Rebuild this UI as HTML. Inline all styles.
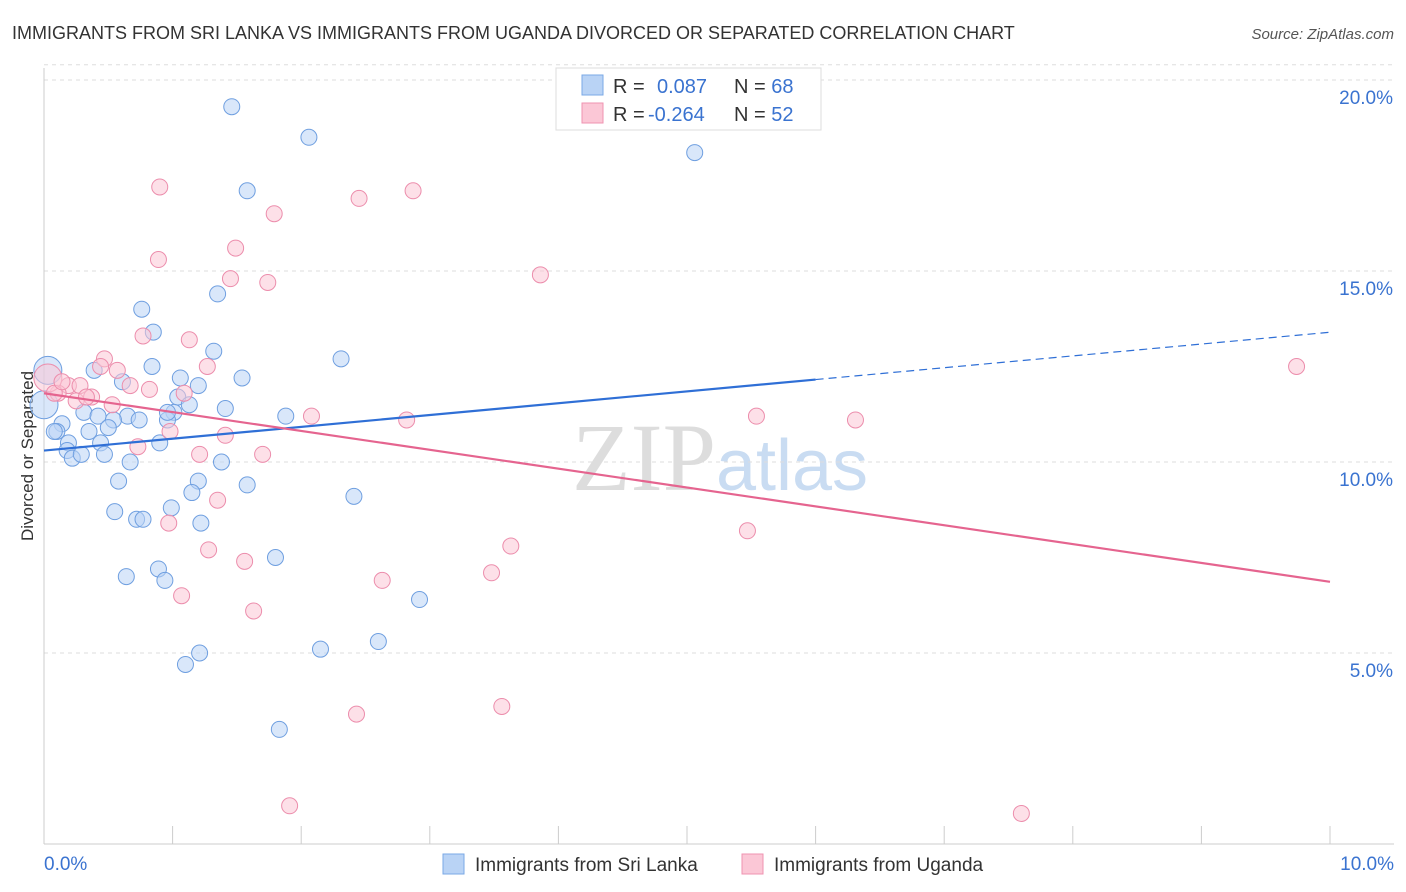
<!DOCTYPE html>
<html><head><meta charset="utf-8"><style>
body{margin:0;background:#fff;font-family:"Liberation Sans",sans-serif}
svg{display:block}
</style></head><body>
<svg id="chart" width="1406" height="892">
<text x="12" y="39" font-size="18" fill="#333">IMMIGRANTS FROM SRI LANKA VS IMMIGRANTS FROM UGANDA DIVORCED OR SEPARATED CORRELATION CHART</text>
<text x="1394" y="39" font-size="15" fill="#555" font-style="italic" text-anchor="end">Source: ZipAtlas.com</text>
<text x="33" y="456" font-size="17" fill="#333" text-anchor="middle" transform="rotate(-90 33 456)">Divorced or Separated</text>
<text x="720" y="490" font-size="96" fill="#ddd" text-anchor="middle" font-family="Liberation Serif,serif">ZIP<tspan fill="#c9dcf2" font-family="Liberation Sans,sans-serif" font-size="72">atlas</tspan></text>
<g id="grid"></g><g id="axes"></g><g id="pts"></g><g id="lines"></g>
<g>
<rect x="556" y="68" width="265" height="62" fill="#fff" stroke="#ddd"/>
<rect x="582" y="75" width="21" height="20" fill="#b9d3f5" stroke="#7aa8e6"/>
<rect x="582" y="103" width="21" height="20" fill="#fbc7d6" stroke="#ef93b0"/>
<text x="613" y="93" font-size="20" fill="#333">R = <tspan x="657" fill="#3a73d0">0.087</tspan><tspan x="734" fill="#333">N = </tspan><tspan fill="#3a73d0">68</tspan></text>
<text x="613" y="121" font-size="20" fill="#333">R = <tspan x="648" fill="#3a73d0">-0.264</tspan><tspan x="734" fill="#333">N = </tspan><tspan fill="#3a73d0">52</tspan></text>
</g>
<g>
<rect x="443" y="854" width="21" height="20" fill="#b9d3f5" stroke="#7aa8e6"/>
<text x="475" y="871" font-size="19" fill="#333">Immigrants from Sri Lanka</text>
<rect x="742" y="854" width="21" height="20" fill="#fbc7d6" stroke="#ef93b0"/>
<text x="774" y="871" font-size="19" fill="#333">Immigrants from Uganda</text>
</g>
</svg>
<script>
const yTicks=[5,10,15,20];
const yTickLabels=["5.0%","10.0%","15.0%","20.0%"];
const xTickLabels=["0.0%","10.0%"];
const blueX=[1.46,2.06,5.06,1.58,1.35,0.76,0.85,1.32,2.31,0.84,1.54,1.06,0.61,1.2,0.39,1.04,1.13,1.41,1.01,0.31,0.42,0.65,0.74,0.54,0.96,1.88,0.14,0.1,0.35,0.5,0.9,0.44,0.19,0.18,0.22,0.29,0.47,0.67,1.38,0.58,1.2,1.58,2.41,1.15,0.99,0.55,0.72,0.77,1.22,1.8,0.64,0.89,0.94,2.92,2.6,2.15,1.21,1.1,1.83,0.03,0.0,0.08,0.96];
const blueY=[19.3,18.5,18.1,17.1,14.4,14.0,13.4,12.9,12.7,12.5,12.2,12.2,12.1,12.0,12.4,11.7,11.5,11.4,11.3,11.3,11.2,11.2,11.1,11.1,11.1,11.2,11.0,10.8,10.8,10.9,10.5,10.5,10.5,10.3,10.1,10.2,10.2,10.0,10.0,9.5,9.5,9.4,9.1,9.2,8.8,8.7,8.5,8.5,8.4,7.5,7.0,7.2,6.9,6.4,5.3,5.1,5.0,4.7,3.0,12.4,11.5,10.8,11.3];
const pinkX=[0.9,2.45,2.87,1.79,1.49,0.89,1.45,1.74,3.86,0.77,1.13,0.47,0.57,0.44,1.27,0.67,0.82,1.09,0.19,0.28,0.11,0.37,0.25,0.53,0.98,0.73,1.41,2.08,2.82,5.54,6.31,1.21,1.7,1.35,0.97,1.28,1.56,2.63,3.63,3.48,5.47,1.07,1.63,2.43,3.56,1.91,7.6,9.74,0.03,0.08,0.14,0.33];
const pinkY=[17.2,16.9,17.1,16.5,15.6,15.3,14.8,14.7,14.9,13.3,13.2,12.7,12.4,12.5,12.5,12.0,11.9,11.8,12.0,12.0,11.8,11.7,11.6,11.5,10.8,10.4,10.7,11.2,11.1,11.2,11.1,10.2,10.2,9.0,8.4,7.7,7.4,6.9,7.8,7.1,8.2,6.5,6.1,3.4,3.6,1.0,0.8,12.5,12.2,11.8,12.1,11.7];
const blueFit=[10.3,0.087];
const pinkFit=[11.8,-0.264];
const X=v=>44+v*128.6, Y=v=>844-v*38.2;
const ns="http://www.w3.org/2000/svg";
function mk(p,t,a){const e=document.createElementNS(ns,t);for(const k in a)e.setAttribute(k,a[k]);document.getElementById(p).appendChild(e);return e;}
yTicks.forEach((t,i)=>{
 const l=mk("grid","line",{x1:44,x2:1394,y1:Y(t),y2:Y(t),stroke:"#ddd","stroke-dasharray":"4,4"});
 
 
 const tx=mk("axes","text",{x:1393,y:Y(t)+24,"font-size":19,fill:"#3a73d0","text-anchor":"end"});tx.textContent=yTickLabels[i];
 
 
});
const tl=mk("grid","line",{x1:44,x2:1394,y1:Y(20.4),y2:Y(20.4),stroke:"#ddd","stroke-dasharray":"4,4"});
mk("axes","line",{x1:44,x2:44,y1:68,y2:844,stroke:"#ccc"});
mk("axes","line",{x1:44,x2:1394,y1:844,y2:844,stroke:"#ccc"});
for(let i=0;i<=10;i++){const t=mk("axes","line",{x1:X(i),x2:X(i),y1:826,y2:844,stroke:"#ccc"});
 
 }
[[0,"start",44],[10,"end",1394]].forEach((d,i)=>{const t=mk("axes","text",{x:d[2],y:870,"font-size":19,fill:"#3a73d0","text-anchor":d[1]});t.textContent=xTickLabels[i];
 
 });
function pts(xs,ys,f,s,name){xs.forEach((x,i)=>{const big=x<0.05;const c=mk("pts","circle",{cx:X(x),cy:Y(ys[i]),r:big?14:8,fill:f,"fill-opacity":0.55,stroke:s,"stroke-width":1});
 
 });}
pts(blueX,blueY,"#b9d3f5","#6f9fe0","point-sri-lanka");
pts(pinkX,pinkY,"#fbc7d6","#ec8dac","point-uganda");
const bl=mk("lines","line",{x1:X(0),y1:Y(blueFit[0]),x2:X(6),y2:Y(blueFit[0]+6*blueFit[1]*3.56),stroke:"#2f6fd6","stroke-width":2.2});


const bd=mk("lines","line",{x1:X(6),y1:Y(blueFit[0]+6*blueFit[1]*3.56),x2:X(10),y2:Y(blueFit[0]+10*blueFit[1]*3.56),stroke:"#2f6fd6","stroke-width":1.2,"stroke-dasharray":"8,5"});


const pl=mk("lines","line",{x1:X(0),y1:Y(pinkFit[0]),x2:X(10),y2:Y(pinkFit[0]+10*pinkFit[1]*1.87),stroke:"#e5648f","stroke-width":2.2});


</script>
</body></html>
